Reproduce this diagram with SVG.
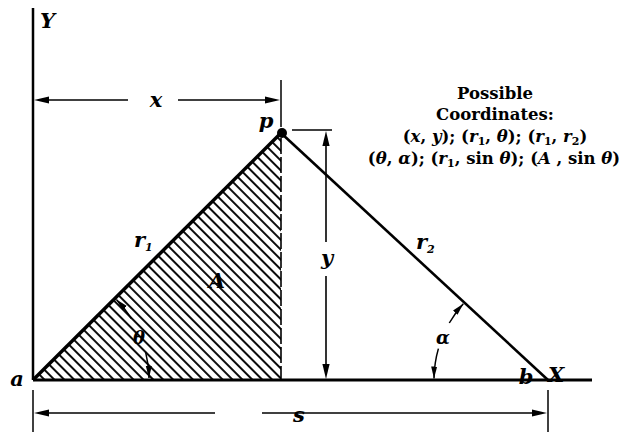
<svg xmlns="http://www.w3.org/2000/svg" xmlns:xlink="http://www.w3.org/1999/xlink" width="636" height="432" viewBox="0 0 636 432">
<style>
.ax{stroke:#000;stroke-width:2.5;fill:none}
.thin{stroke:#000;stroke-width:1.5;fill:none}
.dim{stroke:#000;stroke-width:1.6;fill:none}
.arc{stroke:#000;stroke-width:1.5;fill:none}
.lbl{font-family:"DejaVu Serif","Liberation Serif",serif;font-weight:bold;font-style:italic;font-size:21px;fill:#000}
.txt{font-family:"DejaVu Serif","Liberation Serif",serif;font-weight:bold;font-size:16.5px;fill:#000;text-anchor:middle}
.it{font-style:italic}
.sub{font-size:11px}
</style>
<defs>
<path id="arr" d="M0,0 L-15,-3.6 L-15,3.6 z" fill="#000"/>
<marker id="ahs" markerUnits="userSpaceOnUse" markerWidth="12" markerHeight="8" viewBox="0 0 12 8" refX="12" refY="4" orient="auto">
<path d="M0,1 L12,4 L0,7 z" fill="#000"/>
</marker>
<pattern id="hatch" patternUnits="userSpaceOnUse" width="7" height="10" patternTransform="rotate(-45)">
<line x1="1" y1="0" x2="1" y2="10" stroke="#000" stroke-width="1.9"/>
</pattern>
</defs>

<g id="area-A">
<polygon points="33,380 281,133 281,380" fill="url(#hatch)"/>
</g>

<g id="connectors">
<line class="ax" x1="33" y1="8" x2="33" y2="380"/>
<line class="ax" x1="33" y1="380" x2="592" y2="380" style="stroke-width:3"/>
<line x1="33" y1="380" x2="281" y2="133" stroke="#000" stroke-width="3.5"/>
<line x1="281" y1="133" x2="548" y2="380" stroke="#000" stroke-width="2.6"/>
<line x1="281" y1="138" x2="281" y2="380" stroke="#000" stroke-width="1.6" stroke-dasharray="16 3"/>
<line class="thin" x1="281" y1="80" x2="281" y2="127"/>
<line class="thin" x1="292" y1="130" x2="332" y2="130"/>
<line class="thin" x1="33" y1="390" x2="33" y2="432"/>
<line class="thin" x1="548" y1="390" x2="548" y2="432"/>
<path class="dim" d="M128,100 H40"/>
<path class="dim" d="M178,100 H274"/>
<path class="dim" d="M326,242 V137"/>
<path class="dim" d="M326,276 V373"/>
<path class="dim" d="M215,413 H40"/>
<path class="dim" d="M262,413 H541"/>
<use xlink:href="#arr" transform="translate(34,100) rotate(180)"/>
<use xlink:href="#arr" transform="translate(280,100)"/>
<use xlink:href="#arr" transform="translate(326,131) rotate(-90)"/>
<use xlink:href="#arr" transform="translate(326,379) rotate(90)"/>
<use xlink:href="#arr" transform="translate(34,413) rotate(180)"/>
<use xlink:href="#arr" transform="translate(547,413)"/>
<path class="arc" d="M131.4,318.5 A116,116 0 0 0 116.4,299.4" marker-end="url(#ahs)"/>
<path class="arc" d="M145.6,351.9 A116,116 0 0 1 149,378" marker-end="url(#ahs)"/>
<path class="arc" d="M449.3,323 A114,114 0 0 1 463.3,303.7" marker-end="url(#ahs)"/>
<path class="arc" d="M438.4,348.6 A114,114 0 0 0 434,378.5" marker-end="url(#ahs)"/>
</g>

<g id="point-p">
<circle cx="282" cy="133" r="5" fill="#000"/>
<text class="lbl" x="266" y="128" text-anchor="middle">p</text>
</g>
<g id="point-a"><text class="lbl" x="17" y="386" text-anchor="middle">a</text></g>
<g id="point-b"><text class="lbl" x="526" y="384" text-anchor="middle">b</text></g>
<g id="label-X"><text class="lbl" x="548" y="382">X</text></g>
<g id="label-Y"><text class="lbl" x="40" y="28">Y</text></g>
<g id="label-x"><text class="lbl" x="156" y="107" text-anchor="middle">x</text></g>
<g id="label-y"><text class="lbl" x="327" y="265" text-anchor="middle">y</text></g>
<g id="label-s"><text class="lbl" x="299" y="422" text-anchor="middle">s</text></g>
<g id="label-r1"><text class="lbl" x="134" y="247">r<tspan class="sub" dy="4">1</tspan></text></g>
<g id="label-r2"><text class="lbl" x="416" y="249">r<tspan class="sub" dy="4">2</tspan></text></g>
<g id="label-A"><text class="lbl" x="217" y="288" text-anchor="middle">A</text></g>
<g id="label-theta"><text class="lbl" x="139" y="344" text-anchor="middle" style="font-size:18px">θ</text></g>
<g id="label-alpha"><text class="lbl" x="443" y="344" text-anchor="middle" style="font-size:18px">α</text></g>

<g id="coordinates-note">
<text class="txt" x="495" y="99">Possible</text>
<text class="txt" x="495" y="120">Coordinates:</text>
<text class="txt" x="495" y="142">(<tspan class="it">x</tspan>, <tspan class="it">y</tspan>); (<tspan class="it">r</tspan><tspan class="sub" dy="3">1</tspan><tspan dy="-3">, </tspan><tspan class="it">θ</tspan>); (<tspan class="it">r</tspan><tspan class="sub" dy="3">1</tspan><tspan dy="-3">, </tspan><tspan class="it">r</tspan><tspan class="sub" dy="3">2</tspan><tspan dy="-3">)</tspan></text>
<text class="txt" x="494" y="164">(<tspan class="it">θ</tspan>, <tspan class="it">α</tspan>); (<tspan class="it">r</tspan><tspan class="sub" dy="3">1</tspan><tspan dy="-3">, sin </tspan><tspan class="it">θ</tspan>); (<tspan class="it">A</tspan> , sin <tspan class="it">θ</tspan>)</text>
</g>
</svg>
